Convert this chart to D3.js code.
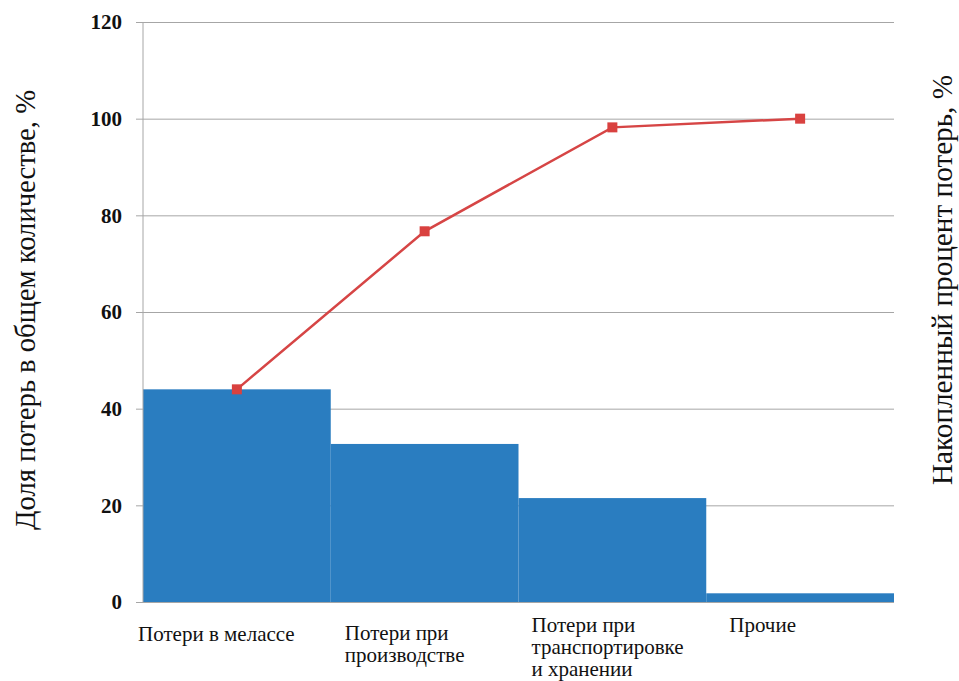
<!DOCTYPE html>
<html>
<head>
<meta charset="utf-8">
<script src="https://cdn.jsdelivr.net/npm/d3@7"></script>
<style>
  html, body { margin: 0; padding: 0; background: #fff; }
  svg { display: block; }
</style>
</head>
<body>
<svg id="chart" width="959" height="681"></svg>
<script>
// Pareto of sugar losses: share per category (bars) and cumulative share (line)
const categories = ["Потери в мелассе", "Потери при производстве", "Потери при транспортировке и хранении", "Прочие"];
const labelLines = [
  ["Потери в мелассе"],
  ["Потери при", "производстве"],
  ["Потери при", "транспортировке", "и хранении"],
  ["Прочие"]
];
const shareValues = [44.0, 32.7, 21.5, 1.8];
const cumulativeValues = [44.0, 76.7, 98.2, 100.0];
const yTicks = [0, 20, 40, 60, 80, 100, 120];

const leftTitle = "Доля потерь в общем количестве, %";
const rightTitle = "Накопленный процент потерь, %";

const svg = d3.select("#chart");
const margin = { left: 143, right: 65, top: 22, bottom: 79 };
const W = 959, H = 681;
const plotW = W - margin.left - margin.right;
const plotH = H - margin.top - margin.bottom;

const x = d3.scaleBand().domain(categories).range([margin.left, margin.left + plotW]).padding(0);
const y = d3.scaleLinear().domain([0, 120]).range([margin.top + plotH, margin.top]);

const serif = "'Liberation Serif', 'Times New Roman', serif";

// Gridlines with short tick stubs to the left
const grid = d3.axisLeft(y).tickValues(yTicks).tickSize(-(plotW + 7)).tickFormat("");
svg.append("g")
  .attr("transform", `translate(${margin.left - 7},0)`)
  .call(grid)
  .call(g => g.select(".domain").remove())
  .call(g => g.selectAll("line").attr("stroke", "#a6a6a6").attr("stroke-width", 1));

// Bars fill the full category width
svg.append("g").selectAll("rect")
  .data(shareValues)
  .join("rect")
  .attr("x", (d, i) => x(categories[i]))
  .attr("width", x.bandwidth())
  .attr("y", d => y(d))
  .attr("height", d => y(0) - y(d))
  .attr("fill", "#2a7dc0");

// Left axis line and baseline
svg.append("line")
  .attr("x1", margin.left).attr("x2", margin.left)
  .attr("y1", y(120)).attr("y2", y(0))
  .attr("stroke", "#a6a6a6");
svg.append("line")
  .attr("x1", margin.left - 7).attr("x2", margin.left + plotW)
  .attr("y1", y(0) + 0.5).attr("y2", y(0) + 0.5)
  .attr("stroke", "#a6a6a6");

// Tick labels
const axis = d3.axisLeft(y).tickValues(yTicks).tickSize(0).tickPadding(21).tickFormat(d3.format("d"));
svg.append("g")
  .attr("transform", `translate(${margin.left},0)`)
  .call(axis)
  .call(g => g.select(".domain").remove())
  .call(g => g.selectAll("text")
    .attr("font-family", serif)
    .attr("font-weight", "bold")
    .attr("font-size", 21)
    .attr("fill", "#111"));

// Cumulative line with square markers
const cx = (d, i) => x(categories[i]) + x.bandwidth() / 2;
const line = d3.line().x(cx).y(d => y(d));
svg.append("path")
  .datum(cumulativeValues)
  .attr("d", line)
  .attr("fill", "none")
  .attr("stroke", "#d64545")
  .attr("stroke-width", 2.5);
svg.append("g").selectAll("rect")
  .data(cumulativeValues)
  .join("rect")
  .attr("x", (d, i) => cx(d, i) - 5)
  .attr("y", d => y(d) - 5)
  .attr("width", 10)
  .attr("height", 10)
  .attr("fill", "#d9413f");

// Category labels, left-aligned, wrapped
const labelDx = [-5, 14, 13, 23];
const labelBaseline = [641, 640, 632, 632];
const labels = svg.append("g")
  .attr("font-family", serif)
  .attr("font-size", 21)
  .attr("fill", "#111");
labelLines.forEach((lines, i) => {
  const t = labels.append("text")
    .attr("x", x(categories[i]) + labelDx[i])
    .attr("y", labelBaseline[i]);
  lines.forEach((s, j) => {
    t.append("tspan")
      .attr("x", x(categories[i]) + labelDx[i])
      .attr("dy", j === 0 ? 0 : 22)
      .text(s);
  });
});

// Axis titles
svg.append("text")
  .attr("transform", `translate(35,310) rotate(-90)`)
  .attr("text-anchor", "middle")
  .attr("font-family", serif)
  .attr("font-size", 29)
  .attr("textLength", 440)
  .attr("lengthAdjust", "spacingAndGlyphs")
  .attr("fill", "#111")
  .text(leftTitle);
svg.append("text")
  .attr("transform", `translate(952,280) rotate(-90)`)
  .attr("text-anchor", "middle")
  .attr("font-family", serif)
  .attr("font-size", 29)
  .attr("textLength", 410)
  .attr("lengthAdjust", "spacingAndGlyphs")
  .attr("fill", "#111")
  .text(rightTitle);
</script>
</body>
</html>
